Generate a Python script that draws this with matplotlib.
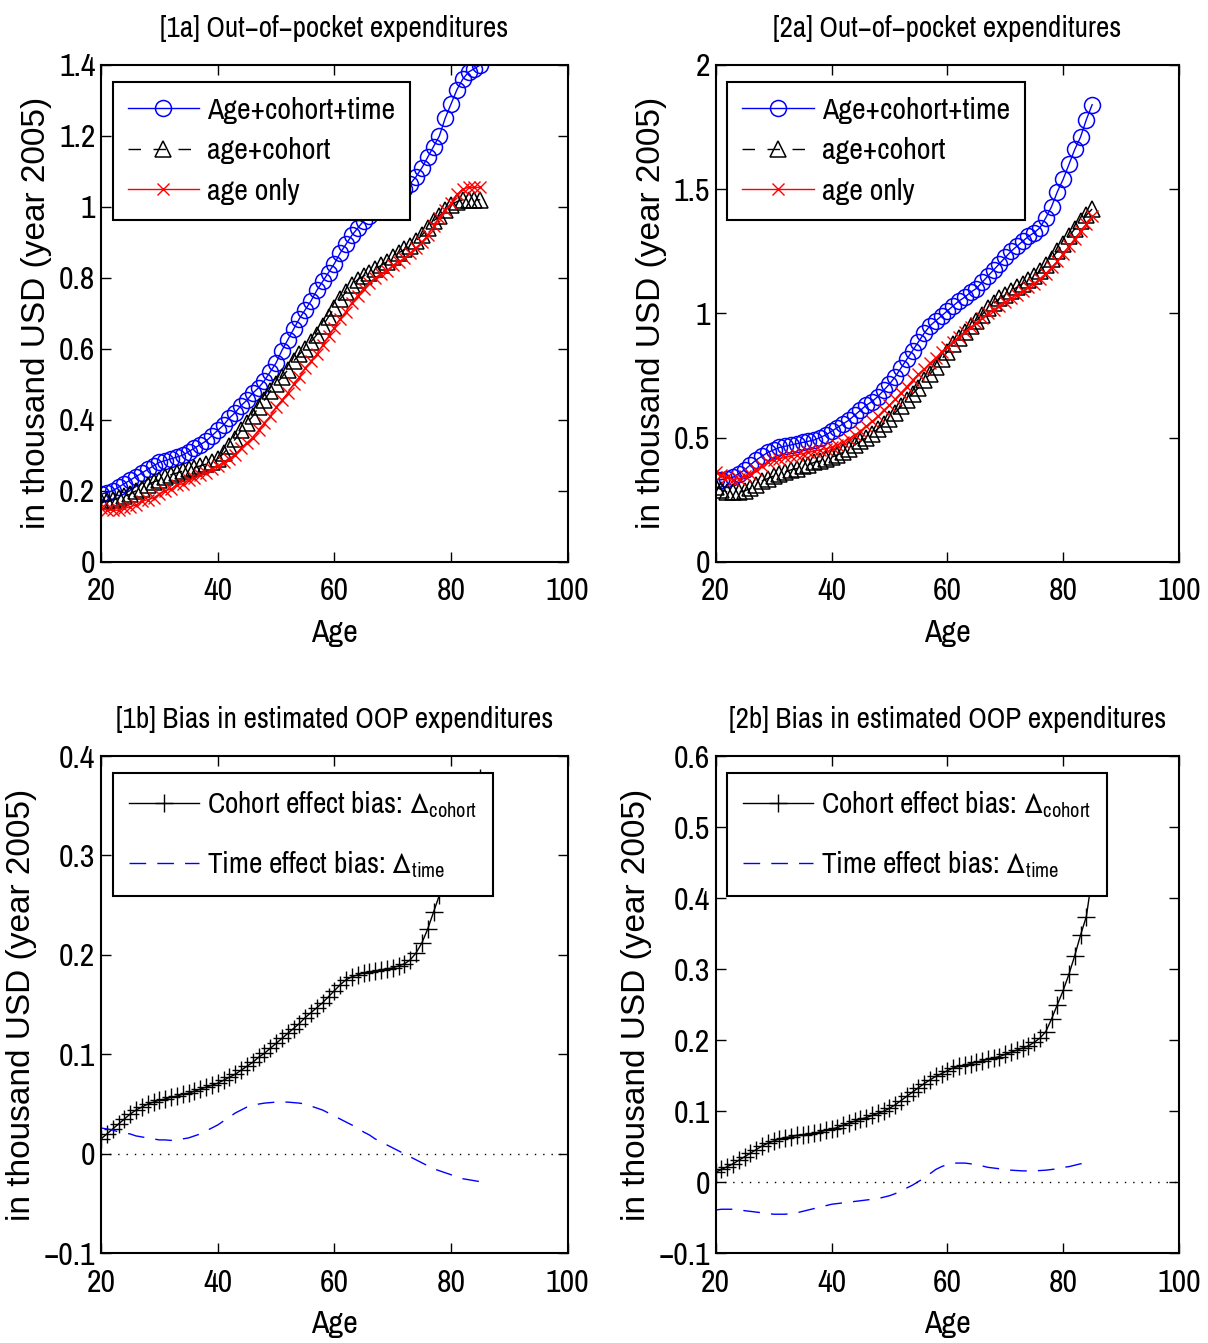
import numpy as np
import matplotlib
matplotlib.use("Agg")
import matplotlib.pyplot as plt
from matplotlib.ticker import FuncFormatter

# narrow helvetica look of the matlab export
NARROW = ["Archivo Narrow", "Liberation Sans Narrow", "Liberation Sans", "DejaVu Sans"]
WIDE = ["Liberation Sans", "DejaVu Sans"]
plt.rcParams["font.family"] = NARROW
plt.rcParams["mathtext.fontset"] = "custom"
plt.rcParams["mathtext.rm"] = "Archivo Narrow"
plt.rcParams["mathtext.it"] = "Archivo Narrow"
plt.rcParams["mathtext.default"] = "rm"
plt.rcParams["mathtext.fallback"] = "stixsans"

age = np.arange(20, 86)

# [1a] out-of-pocket expenditures
oop1_act = [0.19, 0.195, 0.20, 0.21, 0.22, 0.23, 0.24, 0.25, 0.26, 0.27,
            0.28, 0.285, 0.29, 0.295, 0.30, 0.31, 0.32, 0.33, 0.34, 0.355,
            0.37, 0.385, 0.405, 0.42, 0.44, 0.455, 0.475, 0.49, 0.51, 0.535,
            0.56, 0.595, 0.625, 0.655, 0.685, 0.71, 0.735, 0.765, 0.79, 0.815,
            0.84, 0.87, 0.895, 0.92, 0.94, 0.96, 0.975, 0.99, 1.005, 1.02,
            1.03, 1.04, 1.05, 1.065, 1.085, 1.11, 1.14, 1.17, 1.20, 1.25,
            1.29, 1.33, 1.36, 1.38, 1.39, 1.40]
oop1_ac = [0.17, 0.17, 0.175, 0.18, 0.185, 0.19, 0.20, 0.205, 0.215, 0.225,
           0.23, 0.24, 0.245, 0.25, 0.255, 0.26, 0.265, 0.27, 0.275, 0.28,
           0.29, 0.305, 0.325, 0.345, 0.37, 0.39, 0.41, 0.435, 0.455, 0.48,
           0.50, 0.52, 0.54, 0.565, 0.585, 0.60, 0.62, 0.64, 0.665, 0.69,
           0.715, 0.74, 0.76, 0.78, 0.795, 0.805, 0.815, 0.825, 0.835, 0.845,
           0.86, 0.87, 0.88, 0.89, 0.905, 0.92, 0.94, 0.96, 0.975, 0.99,
           1.005, 1.015, 1.02, 1.02, 1.02, 1.02]
oop1_a = [0.15, 0.145, 0.145, 0.145, 0.15, 0.155, 0.16, 0.17, 0.175, 0.18,
          0.19, 0.20, 0.205, 0.215, 0.22, 0.23, 0.235, 0.245, 0.25, 0.26,
          0.27, 0.28, 0.29, 0.30, 0.32, 0.335, 0.35, 0.37, 0.39, 0.41,
          0.435, 0.455, 0.475, 0.50, 0.52, 0.545, 0.565, 0.585, 0.61, 0.635,
          0.66, 0.685, 0.705, 0.73, 0.75, 0.77, 0.785, 0.80, 0.81, 0.82,
          0.835, 0.845, 0.855, 0.87, 0.885, 0.90, 0.92, 0.945, 0.97, 0.99,
          1.01, 1.035, 1.05, 1.055, 1.055, 1.055]

# [2a]
oop2_act = [0.33, 0.33, 0.335, 0.34, 0.355, 0.37, 0.39, 0.41, 0.425, 0.44,
            0.45, 0.46, 0.465, 0.47, 0.475, 0.48, 0.485, 0.49, 0.50, 0.51,
            0.525, 0.54, 0.555, 0.57, 0.59, 0.61, 0.63, 0.645, 0.665, 0.69,
            0.715, 0.745, 0.78, 0.815, 0.85, 0.885, 0.92, 0.95, 0.97, 0.99,
            1.01, 1.03, 1.05, 1.065, 1.085, 1.10, 1.125, 1.15, 1.175, 1.20,
            1.225, 1.25, 1.27, 1.29, 1.31, 1.325, 1.345, 1.385, 1.43, 1.49,
            1.54, 1.60, 1.66, 1.71, 1.78, 1.84]
oop2_ac = [0.30, 0.29, 0.28, 0.28, 0.28, 0.285, 0.295, 0.31, 0.325, 0.335,
           0.345, 0.355, 0.36, 0.37, 0.375, 0.385, 0.39, 0.40, 0.405, 0.415,
           0.42, 0.43, 0.44, 0.455, 0.47, 0.485, 0.50, 0.515, 0.535, 0.555,
           0.575, 0.60, 0.625, 0.65, 0.675, 0.70, 0.73, 0.755, 0.785, 0.815,
           0.845, 0.875, 0.90, 0.925, 0.95, 0.97, 0.995, 1.02, 1.04, 1.06,
           1.075, 1.09, 1.105, 1.12, 1.135, 1.15, 1.17, 1.195, 1.22, 1.25,
           1.28, 1.31, 1.34, 1.37, 1.395, 1.42]
oop2_a = [0.36, 0.35, 0.34, 0.33, 0.335, 0.345, 0.355, 0.37, 0.385, 0.40,
          0.41, 0.415, 0.42, 0.425, 0.43, 0.435, 0.44, 0.445, 0.45, 0.455,
          0.46, 0.47, 0.48, 0.495, 0.51, 0.525, 0.545, 0.565, 0.585, 0.61,
          0.63, 0.655, 0.68, 0.705, 0.73, 0.755, 0.775, 0.80, 0.82, 0.845,
          0.865, 0.885, 0.905, 0.925, 0.945, 0.96, 0.98, 1.00, 1.015, 1.03,
          1.045, 1.06, 1.075, 1.09, 1.105, 1.12, 1.14, 1.16, 1.185, 1.21,
          1.24, 1.27, 1.30, 1.33, 1.36, 1.39]

# [1b] bias
cohort1 = [0.015, 0.02, 0.025, 0.03, 0.035, 0.04, 0.044, 0.047, 0.05, 0.052,
           0.054, 0.055, 0.057, 0.058, 0.06, 0.061, 0.063, 0.065, 0.067, 0.069,
           0.071, 0.074, 0.077, 0.08, 0.084, 0.088, 0.092, 0.097, 0.101, 0.106,
           0.111, 0.116, 0.121, 0.126, 0.131, 0.137, 0.142, 0.147, 0.152, 0.158,
           0.164, 0.17, 0.175, 0.178, 0.18, 0.182, 0.183, 0.184, 0.185, 0.186,
           0.187, 0.189, 0.191, 0.195, 0.202, 0.212, 0.226, 0.243, 0.26, 0.278,
           0.295, 0.312, 0.328, 0.345, 0.362, 0.378]
time1 = [0.026, 0.025, 0.024, 0.022, 0.021, 0.02, 0.018, 0.017, 0.016, 0.015,
         0.014, 0.014, 0.0135, 0.014, 0.015, 0.016, 0.018, 0.02, 0.023, 0.026,
         0.029, 0.033, 0.037, 0.041, 0.044, 0.047, 0.049, 0.05, 0.051, 0.0515,
         0.052, 0.052, 0.052, 0.0515, 0.051, 0.05, 0.048, 0.046, 0.044, 0.041,
         0.038, 0.035, 0.032, 0.029, 0.026, 0.022, 0.019, 0.015, 0.012, 0.009,
         0.006, 0.003, 0.0, -0.003, -0.006, -0.009, -0.012, -0.015, -0.017, -0.019,
         -0.021, -0.023, -0.025, -0.026, -0.027, -0.028]

# [2b]
cohort2 = [0.014, 0.018, 0.022, 0.026, 0.031, 0.036, 0.041, 0.046, 0.051, 0.055,
           0.058, 0.061, 0.063, 0.064, 0.066, 0.067, 0.068, 0.069, 0.071, 0.073,
           0.075, 0.077, 0.080, 0.083, 0.086, 0.089, 0.091, 0.094, 0.097, 0.10,
           0.104, 0.109, 0.115, 0.121, 0.127, 0.133, 0.139, 0.144, 0.149, 0.153,
           0.157, 0.161, 0.163, 0.165, 0.167, 0.169, 0.171, 0.173, 0.175, 0.177,
           0.180, 0.183, 0.186, 0.189, 0.192, 0.197, 0.203, 0.212, 0.23, 0.25,
           0.27, 0.293, 0.319, 0.348, 0.374, 0.43]
time2 = [-0.039, -0.038, -0.038, -0.038, -0.039, -0.040, -0.041, -0.042, -0.043, -0.044,
         -0.045, -0.045, -0.045, -0.044, -0.043, -0.041, -0.039, -0.037, -0.035, -0.033,
         -0.031, -0.030, -0.029, -0.028, -0.027, -0.026, -0.025, -0.024, -0.023, -0.021,
         -0.019, -0.016, -0.012, -0.008, -0.004, 0.001, 0.006, 0.012, 0.018, 0.022,
         0.025, 0.027, 0.027, 0.027, 0.026, 0.025, 0.023, 0.021, 0.02, 0.019,
         0.018, 0.017, 0.0165, 0.016, 0.016, 0.016, 0.0165, 0.017, 0.018, 0.019,
         0.021, 0.022, 0.024, 0.026, 0.027, 0.029]

titles = ["[1a] Out\u2212of\u2212pocket expenditures",
          "[2a] Out\u2212of\u2212pocket expenditures",
          "[1b] Bias in estimated OOP expenditures",
          "[2b] Bias in estimated OOP expenditures"]
ylab = "in thousand USD (year 2005)"


def fmt(v, pos):
    s = "%g" % round(v, 6)
    return s.replace("-", "\u2212")


def style_axes(ax, title, ylim, yticks):
    ax.set_xlim(20, 100)
    ax.set_xticks([20, 40, 60, 80, 100])
    ax.set_ylim(*ylim)
    ax.set_yticks(yticks)
    ax.yaxis.set_major_formatter(FuncFormatter(fmt))
    ax.tick_params(direction="in", length=7, width=1, top=True, right=True,
                   labelsize=23)
    ax.tick_params(axis="x", pad=11)
    ax.tick_params(axis="y", pad=4)
    for s in ax.spines.values():
        s.set_linewidth(1.5)
    ax.set_title(title, fontsize=21, pad=20)
    ax.set_xlabel("Age", fontsize=23, labelpad=10)
    ax.set_ylabel(ylab, fontsize=24, family=WIDE, labelpad=5)


fig = plt.figure(figsize=(12.08, 13.43), dpi=100)
W, H = 1208.0, 1343.0


def add_ax(l, t, r, b):
    return fig.add_axes([l / W, 1 - b / H, (r - l) / W, (b - t) / H])


ax1 = add_ax(101, 65, 567.7, 561.7)
ax2 = add_ax(715.7, 65, 1179, 561.7)
ax3 = add_ax(101, 756, 567.7, 1253.3)
ax4 = add_ax(715.7, 756, 1179, 1253.3)

leg_kw = dict(loc="upper left", fancybox=False, framealpha=1, edgecolor="black",
              fontsize=21.5, handlelength=2.4, handletextpad=0.27, borderpad=0.5,
              labelspacing=0.45, borderaxespad=0)

for ax, act, ac, a, title, ylim, yt in [
        (ax1, oop1_act, oop1_ac, oop1_a, titles[0], (0, 1.4), np.arange(0, 1.41, 0.2)),
        (ax2, oop2_act, oop2_ac, oop2_a, titles[1], (0, 2), [0, 0.5, 1, 1.5, 2])]:
    ax.plot(age, act, "-o", color="blue", lw=1, ms=11.5, mfc="none", mew=1.1,
            label="Age+cohort+time")
    ax.plot(age, ac, "^", ls=(0, (9, 9)), color="black", lw=1, ms=11, mfc="none",
            mew=1.1, label="age+cohort")
    ax.plot(age, a, "-x", color="red", lw=1, ms=8, mew=1, label="age only")
    style_axes(ax, title, ylim, yt)
    leg = ax.legend(bbox_to_anchor=(0.025, 0.966), **leg_kw)
    leg.get_frame().set_linewidth(1.5)

for ax, coh, tim, title, ylim, yt in [
        (ax3, cohort1, time1, titles[2], (-0.1, 0.4), np.arange(-0.1, 0.41, 0.1)),
        (ax4, cohort2, time2, titles[3], (-0.1, 0.6), np.arange(-0.1, 0.61, 0.1))]:
    ax.plot(age, coh, "-+", color="black", lw=1, ms=13, mew=1,
            label=r"Cohort effect bias: $\Delta_{cohort}$")
    ax.plot(age, tim, color="blue", lw=1, dashes=(12, 8),
            label=r"Time effect bias: $\Delta_{time}$")
    ax.axhline(0, color="black", lw=1, dashes=(1, 5))
    style_axes(ax, title, ylim, yt)
    leg = ax.legend(bbox_to_anchor=(0.025, 0.966),
                    **dict(leg_kw, fontsize=21, labelspacing=1.0, borderpad=0.55))
    leg.get_frame().set_linewidth(1.5)

fig.savefig("out.png", dpi=100)
